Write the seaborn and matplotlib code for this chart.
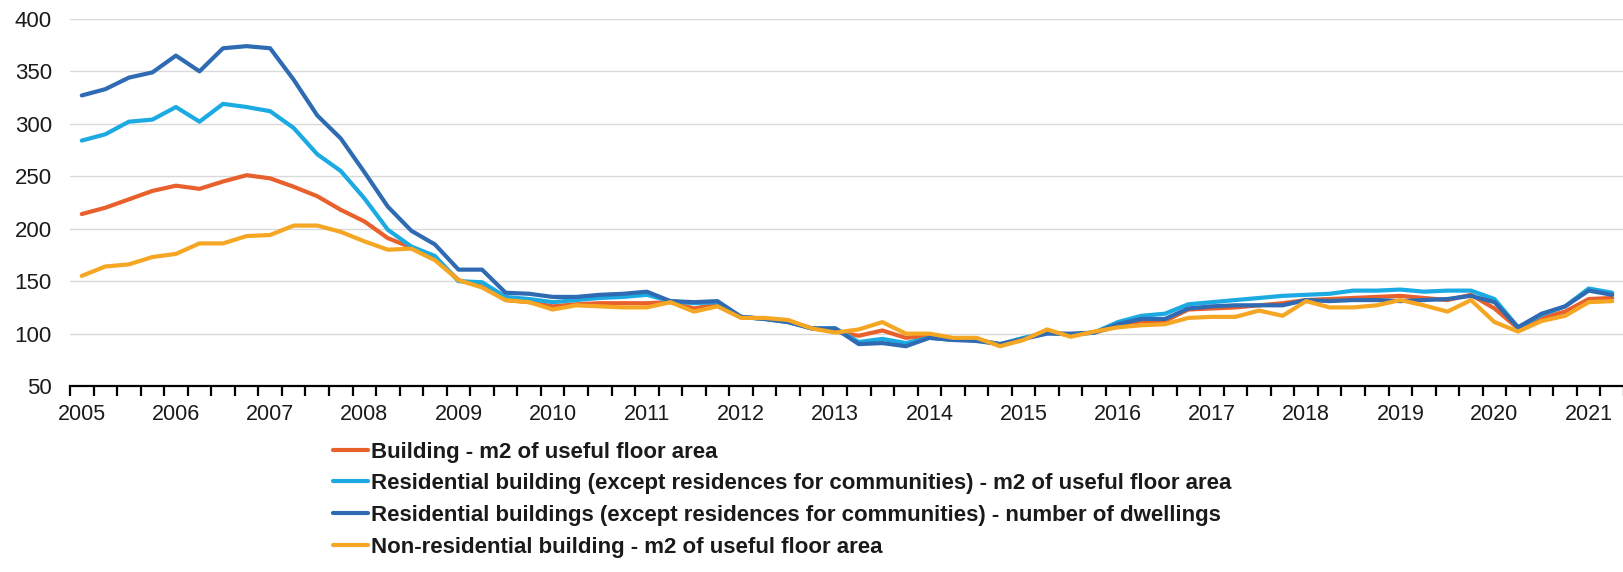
import matplotlib
matplotlib.use("Agg")
import matplotlib.pyplot as plt
import seaborn as sns
import pandas as pd
import numpy as np

# quarterly series, 2005Q1 .. 2021Q2
years = list(range(2005, 2022))
n_quarters = 66

building_m2 = [214, 220, 228, 236, 241, 238, 245, 251, 248, 240, 231, 218, 207, 191, 182, 172,
               151, 145, 132, 130, 126, 128, 129, 129, 129, 130, 124, 128, 116, 114, 112, 105,
               102, 98, 103, 96, 98, 94, 94, 90, 95, 101, 99, 101, 107, 112, 112, 123,
               124, 125, 127, 129, 132, 133, 134, 135, 136, 134, 132, 137, 124, 105, 115, 121,
               133, 134]
resid_m2 = [284, 290, 302, 304, 316, 302, 319, 316, 312, 296, 271, 255, 229, 199, 183, 174,
            150, 149, 135, 133, 130, 132, 134, 135, 137, 131, 129, 130, 116, 114, 111, 105,
            105, 92, 95, 91, 96, 94, 94, 90, 96, 101, 99, 101, 111, 117, 119, 128,
            130, 132, 134, 136, 137, 138, 141, 141, 142, 140, 141, 141, 133, 106, 118, 126,
            143, 139]
resid_dwellings = [327, 333, 344, 349, 365, 350, 372, 374, 372, 342, 308, 286, 254, 221, 198, 185,
                   161, 161, 139, 138, 135, 135, 137, 138, 140, 131, 130, 131, 116, 114, 111, 105,
                   105, 90, 91, 88, 96, 94, 93, 90, 95, 100, 100, 101, 109, 114, 114, 124,
                   126, 127, 127, 127, 132, 131, 132, 132, 131, 132, 133, 136, 130, 106, 119, 126,
                   141, 137]
nonresid_m2 = [155, 164, 166, 173, 176, 186, 186, 193, 194, 203, 203, 197, 188, 180, 181, 170,
               151, 144, 132, 130, 123, 127, 126, 125, 125, 130, 121, 126, 115, 115, 113, 105,
               101, 104, 111, 100, 100, 96, 96, 88, 94, 104, 97, 102, 106, 108, 109, 115,
               116, 116, 122, 117, 131, 125, 125, 127, 132, 127, 121, 132, 111, 102, 112, 117,
               130, 131]

series_names = [
    "Building - m2 of useful floor area",
    "Residential building (except residences for communities) - m2 of useful floor area",
    "Residential buildings (except residences for communities) - number of dwellings",
    "Non-residential building - m2 of useful floor area",
]
colors = ["#E8602C", "#1BAAE2", "#2F6BB3", "#F5A623"]

frames = []
for name, vals in zip(series_names, [building_m2, resid_m2, resid_dwellings, nonresid_m2]):
    frames.append(pd.DataFrame({"q": np.arange(n_quarters), "value": vals, "series": name}))
df = pd.concat(frames)

sns.set_style("white")
plt.rcParams["font.family"] = ["Liberation Sans", "DejaVu Sans"]

fig = plt.figure(figsize=(16.24, 5.72), dpi=100)
ax = fig.add_axes([0.0431, 0.325, 0.9569, 0.642])

sns.lineplot(data=df, x="q", y="value", hue="series", hue_order=series_names,
             palette=dict(zip(series_names, colors)), linewidth=3.0, ax=ax)

ax.set_xlim(-0.5, n_quarters - 0.5)
ax.set_ylim(50, 400)
ax.set_yticks(range(50, 401, 50))
ax.yaxis.grid(True, color="#d9d9d9", linewidth=1)
ax.set_axisbelow(True)

# year labels on Q1, tick marks at quarter boundaries
ax.set_xticks([4 * i for i in range(len(years))])
ax.set_xticklabels([str(y) for y in years])
ax.set_xticks(np.arange(-0.5, n_quarters, 1), minor=True)
ax.tick_params(axis="x", which="major", bottom=True, length=0, pad=13, labelsize=15.5,
               colors="#1a1a1a")
ax.tick_params(axis="x", which="minor", bottom=True, length=7, width=1.6, color="black",
               direction="out")
ax.tick_params(axis="y", left=False, length=0, pad=13, labelsize=16, colors="#1a1a1a")

for s in ["top", "right", "left"]:
    ax.spines[s].set_visible(False)
ax.spines["bottom"].set_color("black")
ax.spines["bottom"].set_linewidth(1.6)
ax.set_xlabel("")
ax.set_ylabel("")

handles, labels = ax.get_legend_handles_labels()
ax.get_legend().remove()
leg = fig.legend(handles, labels, loc="upper left", bbox_to_anchor=(0.205, 0.228),
                 frameon=False, borderpad=0, borderaxespad=0, handlelength=1.6,
                 handletextpad=0.1, labelspacing=0.48,
                 prop={"size": 16, "weight": "bold"})
for t in leg.get_texts():
    t.set_color("#1a1a1a")

fig.savefig("out.png", dpi=100)
